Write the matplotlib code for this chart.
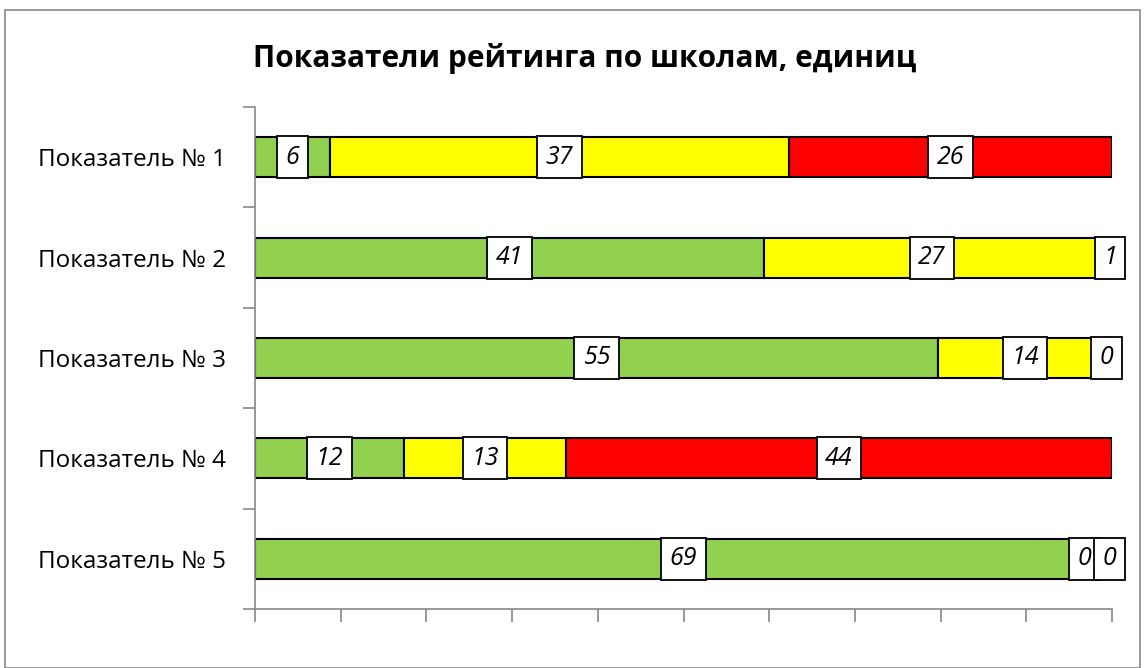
import numpy as np
import matplotlib.pyplot as plt
from matplotlib.patches import Rectangle

plt.rcParams['font.family'] = ['Open Sans', 'DejaVu Sans']

categories = ['Показатель № 1', 'Показатель № 2', 'Показатель № 3',
              'Показатель № 4', 'Показатель № 5']
green = [6, 41, 55, 12, 69]
yellow = [37, 27, 14, 13, 0]
red = [26, 1, 0, 44, 0]
colors = ['#92D050', '#FFFF00', '#FF0000']
title = 'Показатели рейтинга по школам, единиц'

# label nudges (points) where Excel moved labels to avoid overlap
nudge = {(1, 2): 3, (2, 2): -4, (4, 1): -20, (4, 2): -2}

fig = plt.figure(figsize=(11.45, 6.68), dpi=100)
fig.patches.append(Rectangle((5/1145, 0), 1 - 10/1145, 1 - 10/668,
                             transform=fig.transFigure, fill=False,
                             edgecolor='#888888', linewidth=1.2))
ax = fig.add_axes([255/1145, 1 - 609/668, (1112 - 255)/1145, (609 - 107)/668])

y = np.arange(len(categories))
left = np.zeros(len(categories))
series = [green, yellow, red]
for si, vals in enumerate(series):
    vals = np.array(vals, dtype=float)
    ax.barh(y, vals, left=left, height=0.4, color=colors[si],
            edgecolor='black', linewidth=1.5, zorder=2)
    for i, v in enumerate(vals):
        cx = left[i] + v / 2
        ax.annotate('%d' % v, xy=(cx, y[i]), xytext=(nudge.get((i, si), 0), 0),
                    textcoords='offset points', ha='center', va='center',
                    fontsize=18, fontstyle='italic', zorder=5,
                    bbox=dict(boxstyle='square,pad=0.34', facecolor='white',
                              edgecolor='black', linewidth=1.3))
    left += vals

total = left.max()
ax.set_xlim(0, total)
ax.set_ylim(len(categories) - 0.5, -0.5)
ax.set_xticks(np.linspace(0, total, 11))
ax.set_xticklabels([])
ax.set_yticks(np.arange(-0.5, len(categories), 1.0))
ax.set_yticklabels([])
ax.set_yticks(y, minor=True)
ax.set_yticklabels(categories, minor=True, fontsize=17.5)
ax.tick_params(axis='y', which='minor', length=0, pad=21)
ax.tick_params(axis='both', which='major', length=9, color='#888888', width=1.2)
for s in ['top', 'right']:
    ax.spines[s].set_visible(False)
for s in ['left', 'bottom']:
    ax.spines[s].set_color('#888888')
    ax.spines[s].set_linewidth(1.2)

fig.text(585/1145, 1 - 58/668, title, ha='center', va='center',
         fontsize=21.5, fontweight='bold')

fig.savefig('out.png', dpi=100)
